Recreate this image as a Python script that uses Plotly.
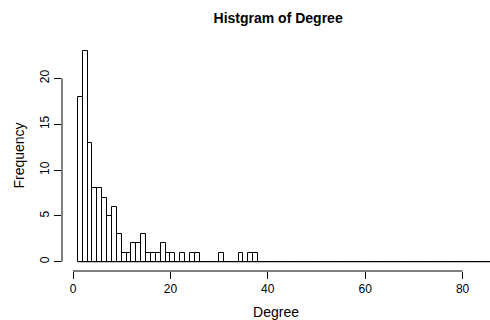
import plotly.graph_objects as go

# Histogram bins: left edges of unit-width bins (breaks 1..87)
bin_left = list(range(1, 87))
counts = [18, 23, 13, 8, 8, 7, 5, 6, 3, 1,
          1, 2, 2, 3, 1, 1, 1, 2, 1, 1,
          0, 1, 0, 1, 1, 0, 0, 0, 0, 1,
          0, 0, 0, 1, 0, 1, 1, 0, 0, 0,
          0, 0, 0, 0, 0, 0, 0, 0, 0, 0,
          0, 0, 0, 0, 0, 0, 0, 0, 0, 0,
          0, 0, 0, 0, 0, 0, 0, 0, 0, 0,
          0, 0, 0, 0, 0, 0, 0, 0, 0, 0,
          0, 0, 0, 0, 0, 0]
bin_width = 1
x_ticks = [0, 20, 40, 60, 80]
y_ticks = [0, 5, 10, 15, 20]

FONT = "Liberation Sans, Arial, Helvetica, sans-serif"

centers = [b + bin_width / 2 for b in bin_left]

fig = go.Figure()
fig.add_trace(go.Bar(
    x=centers, y=counts, width=bin_width,
    marker=dict(color="white", line=dict(color="black", width=1)),
    showlegend=False, hoverinfo="x+y",
))
# baseline along zero-height bins
fig.add_trace(go.Scatter(
    x=[bin_left[0], bin_left[-1] + bin_width], y=[0, 0],
    mode="lines", line=dict(color="black", width=1),
    showlegend=False, hoverinfo="skip",
))

fig.update_layout(
    width=490, height=320,
    margin=dict(l=62, r=0, t=40, b=49, autoexpand=False),
    paper_bgcolor="white", plot_bgcolor="white",
    font=dict(family=FONT, size=12, color="black"),
    title=dict(text="<b>Histgram of Degree</b>", font=dict(size=14),
               x=0.505, xref="paper", xanchor="center",
               y=1 - 18 / 320, yref="container", yanchor="middle"),
    bargap=0,
    xaxis=dict(range=[-2.26, 85.63], tickvals=x_ticks, ticks="outside",
               ticklen=7, tickcolor="black", showline=False, showgrid=False,
               zeroline=False, fixedrange=True, automargin=False,
               title=dict(text="Degree", standoff=12)),
    yaxis=dict(range=[-1.01, 24.18], tickvals=y_ticks, ticks="outside",
               ticklen=7, tickcolor="black", showline=False, showgrid=False,
               zeroline=False, tickangle=-90, automargin=False, fixedrange=True,
               title=dict(text="Frequency", standoff=10)),
    shapes=[
        dict(type="line", xref="x", yref="paper", x0=x_ticks[0], x1=x_ticks[-1],
             y0=0, y1=0, line=dict(color="black", width=1)),
        dict(type="line", xref="paper", yref="y", x0=0, x1=0,
             y0=y_ticks[0], y1=y_ticks[-1], line=dict(color="black", width=1)),
    ],
)

fig.write_html("out.html", config={"displayModeBar": False},
               post_script="document.body.style.margin='0';")
